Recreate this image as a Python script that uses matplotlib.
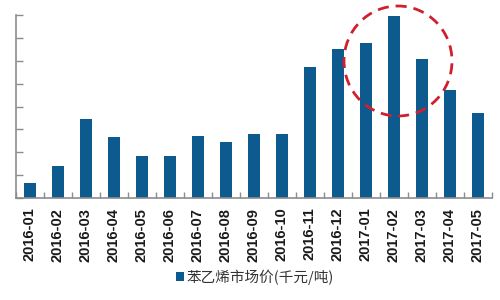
import matplotlib
matplotlib.use("Agg")
import matplotlib.pyplot as plt
from matplotlib.patches import Ellipse
import numpy as np

months = ["2016-01", "2016-02", "2016-03", "2016-04", "2016-05", "2016-06",
          "2016-07", "2016-08", "2016-09", "2016-10", "2016-11", "2016-12",
          "2017-01", "2017-02", "2017-03", "2017-04", "2017-05"]
prices = [7.33, 7.70, 8.72, 8.33, 7.91, 7.91, 8.35, 8.22, 8.39, 8.39,
          9.87, 10.26, 10.39, 10.98, 10.04, 9.37, 8.85]
series_name = "苯乙烯市场价(千元/吨)"

bar_color = "#0c5a8e"
axis_color = "#8c8c8c"

fig = plt.figure(figsize=(5, 3), dpi=100)
ax = fig.add_axes([0.032, 0.34, 0.952, 0.61])
x = np.arange(len(months))
ax.bar(x, prices, width=0.45, color=bar_color, label=series_name, zorder=2)

ax.set_xlim(-0.5, len(months) - 0.5)
ax.set_ylim(7, 11)
ax.set_yticks(np.arange(7, 11.01, 0.5))
ax.set_yticklabels([])
ax.tick_params(axis="y", direction="in", length=5, color=axis_color, width=1)

ax.set_xticks(x)
ax.set_xticklabels(months, rotation=90, fontsize=10.5, family="Liberation Sans",
                   color="#1a1a1a", fontweight="bold")
ax.tick_params(axis="x", length=0, pad=7)
ax.set_xticks(np.arange(-0.5, len(months), 1), minor=True)
ax.tick_params(axis="x", which="minor", direction="in", length=4, color=axis_color, width=1)

for s in ["top", "right"]:
    ax.spines[s].set_visible(False)
for s in ["left", "bottom"]:
    ax.spines[s].set_color(axis_color)
    ax.spines[s].set_linewidth(1.2)

circ = Ellipse((398 / 500, 1 - 61 / 300), 108 / 500, 110 / 300,
               transform=fig.transFigure, fill=False, edgecolor="#d0202f",
               linestyle=(0, (4, 2.5)), linewidth=2.0, clip_on=False, zorder=5)
fig.patches.append(circ)

leg = fig.legend(loc="center", bbox_to_anchor=(255 / 500, 1 - 277 / 300),
                 frameon=False, handlelength=0.55, handleheight=0.55,
                 handletextpad=0.2, borderpad=0,
                 prop={"family": ["Noto Sans CJK SC", "DejaVu Sans"], "size": 10.5})
for t in leg.get_texts():
    t.set_color("#333333")

fig.savefig("out.png", dpi=100)
